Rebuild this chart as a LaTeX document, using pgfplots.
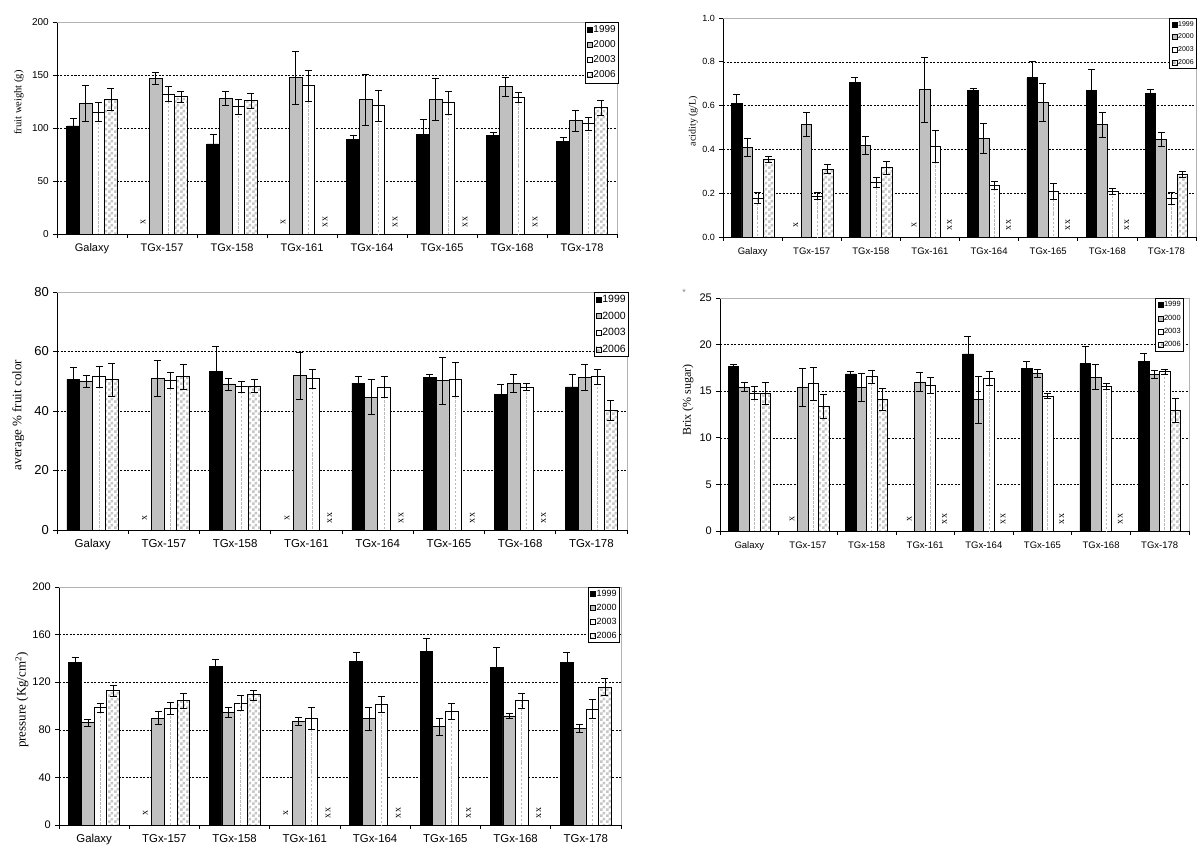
\documentclass[border=0pt]{standalone}
\usepackage{fontspec}
\setmainfont{Liberation Serif}
\newfontfamily\arial{Liberation Sans}
\usepackage{pgfplots}
\pgfplotsset{compat=1.18}
\usepackage{pgfplotstable}
\usetikzlibrary{patterns}

\definecolor{barg}{HTML}{C0C0C0}

% checkered fill of the 2006 bars
\pgfdeclarepatternformonly{chk}{\pgfqpoint{0pt}{0pt}}{\pgfqpoint{6pt}{6pt}}{\pgfqpoint{6pt}{6pt}}{%
  \pgfpathrectangle{\pgfqpoint{0pt}{0pt}}{\pgfqpoint{3pt}{3pt}}%
  \pgfpathrectangle{\pgfqpoint{3pt}{3pt}}{\pgfqpoint{3pt}{3pt}}%
  \pgfusepath{fill}}

% columns: category, mean and error for 1999, 2000, 2003, 2006
\pgfplotstableread{
x v99 e99 v00 e00 v03 e03 v06 e06
0 102 7 123 17 115 9 127 10
1 nan nan 147 6 132 7 129.5 5
2 85 9 128 7 120 7.5 126 7
3 nan nan 147.5 25 140 14.5 nan nan
4 89 4 127 24 121 15 nan nan
5 94 14 127 20 124 11 nan nan
6 93 3 139 9 129 4.5 nan nan
7 87 4 107 10 104 6 119 7
}\fw

\pgfplotstableread{
x v99 e99 v00 e00 v03 e03 v06 e06
0 0.610 0.040 0.410 0.041 0.177 0.025 0.354 0.015
1 nan nan 0.515 0.056 0.187 0.015 0.310 0.020
2 0.706 0.025 0.420 0.042 0.250 0.022 0.316 0.031
3 nan nan 0.672 0.148 0.415 0.072 nan nan
4 0.671 0.006 0.452 0.068 0.236 0.020 nan nan
5 0.727 0.074 0.614 0.088 0.210 0.037 nan nan
6 0.671 0.094 0.513 0.058 0.209 0.012 nan nan
7 0.654 0.020 0.446 0.030 0.176 0.026 0.285 0.013
}\acid

\pgfplotstableread{
x v99 e99 v00 e00 v03 e03 v06 e06
0 50.6 4.0 50.1 2.0 51.5 3.4 50.6 5.6
1 nan nan 50.9 6.0 50.3 2.6 51.5 4.3
2 53.2 8.6 49.1 2.0 48.2 1.8 48.4 2.1
3 nan nan 51.9 7.8 50.9 3.2 nan nan
4 49.4 2.3 44.7 5.9 48.0 3.5 nan nan
5 51.2 1.0 50.2 8.0 50.6 5.8 nan nan
6 45.6 3.3 49.2 3.0 48.0 1.2 nan nan
7 48.1 4.1 51.2 4.4 51.5 2.5 40.3 3.4
}\fcolor

\pgfplotstableread{
x v99 e99 v00 e00 v03 e03 v06 e06
0 17.70 0.20 15.45 0.50 14.80 0.70 14.80 1.20
1 nan nan 15.45 2.05 15.80 1.80 13.40 1.30
2 16.85 0.25 15.40 1.50 16.55 0.70 14.15 1.20
3 nan nan 16.00 1.05 15.60 0.85 nan nan
4 19.00 1.90 14.10 2.50 16.35 0.75 nan nan
5 17.40 0.80 16.90 0.40 14.50 0.25 nan nan
6 17.95 1.90 16.50 1.35 15.50 0.30 nan nan
7 18.15 0.90 16.80 0.45 17.10 0.25 12.95 1.25
}\brix

\pgfplotstableread{
x v99 e99 v00 e00 v03 e03 v06 e06
0 136.9 4.0 86.1 2.8 98.7 3.6 113.0 4.5
1 nan nan 89.8 5.6 98.2 4.8 104.6 6.2
2 133.2 6.4 94.5 4.2 102.4 6.2 109.4 4.2
3 nan nan 87.0 3.4 89.5 9.2 nan nan
4 137.7 7.3 89.5 9.8 101.5 6.5 nan nan
5 145.9 10.6 82.7 7.0 95.6 6.8 nan nan
6 132.7 16.5 91.7 2.0 104.6 6.2 nan nan
7 136.3 8.7 81.0 3.2 97.5 8.0 116.0 7.0
}\press

\tikzset{xm/.style={yshift=12pt, rotate=90, inner sep=0pt, font=\fontsize{10}{11}\selectfont}}

\pgfplotsset{
  panel/.style={
    scale only axis, anchor=south west, clip=false,
    xmin=-0.5, xmax=7.5,
    axis x line*=bottom, axis y line*=left,
    axis line style={-, black, line width=0.7pt},
    xtick={0,...,7},
    xticklabels={Galaxy,TGx-157,TGx-158,TGx-161,TGx-164,TGx-165,TGx-168,TGx-178},
    minor xtick={-0.5,0.5,...,7.5},
    tick align=outside,
    major tick length=0pt, minor tick length=4pt,
    tick style={black, line width=0.6pt},
    yminorgrids,
    minor grid style={black, line width=0.5pt, dash pattern=on 2pt off 1.5pt},
    xticklabel style={anchor=base, inner sep=0pt, yshift=-18pt},
    yticklabel style={anchor=east, inner sep=0pt, xshift=-8pt},
    ylabel style={anchor=center},
    legend cell align=left,
    legend style={draw=black, line width=0.6pt, at={(rel axis cs:1,1)}, anchor=north east,
      inner xsep=2pt, nodes={inner sep=1pt}},
    legend image code/.code={\draw[##1, line width=0.5pt] (0pt,-2.5pt) rectangle (5pt,2.5pt);},
  },
  bb/.style={ybar, bar width=0.18, draw=black, line width=0.7pt, forget plot},
  eb/.style={draw=none, mark=none, forget plot,
    error bars/.cd, y dir=both, y explicit,
    error bar style={draw=black, line width=0.6pt},
    error mark options={draw=black, rotate=90, mark size=3.5pt, line width=0.6pt}},
  mid/.style={draw=none, mark=none, forget plot,
    error bars/.cd, y dir=both, y explicit, error mark=none,
    error bar style={draw=gray!55, line width=1pt, dash pattern=on 2.5pt off 1.5pt}},
}

\newcommand\bars[1]{%
  \addplot[bb, bar shift=-0.27, fill=black] table[x=x, y=v99] {#1};
  \addplot[bb, bar shift=-0.09, fill=barg] table[x=x, y=v00] {#1};
  \addplot[bb, bar shift=0.09, fill=white] table[x=x, y=v03] {#1};
  \addplot[mid] table[x expr=\thisrow{x}+0.09, y expr=\thisrow{v03}/2, y error expr=\thisrow{v03}/2] {#1};
  \addplot[bb, bar shift=0.27, preaction={fill=white}, pattern=chk, pattern color=gray!45]
    table[x=x, y=v06] {#1};
  \addplot[eb] table[x expr=\thisrow{x}-0.27, y=v99, y error=e99] {#1};
  \addplot[eb] table[x expr=\thisrow{x}-0.09, y=v00, y error=e00] {#1};
  \addplot[eb] table[x expr=\thisrow{x}+0.09, y=v03, y error=e03] {#1};
  \addplot[eb] table[x expr=\thisrow{x}+0.27, y=v06, y error=e06] {#1};
  \draw[gray!60, line width=0.8pt] (rel axis cs:0,1) -- (rel axis cs:1,1) -- (rel axis cs:1,0);
  \addlegendimage{fill=black, draw=black}
  \addlegendimage{fill=barg, draw=black}
  \addlegendimage{fill=white, draw=black}
  \addlegendimage{pattern=chk, pattern color=gray!60, draw=black}
  \legend{1999,2000,2003,2006}
  \node[xm] at (axis cs:0.73,0) {x};
  \node[xm] at (axis cs:2.73,0) {x};
  \node[xm] at (axis cs:3.33,0) {x\,x};
  \node[xm] at (axis cs:4.33,0) {x\,x};
  \node[xm] at (axis cs:5.33,0) {x\,x};
  \node[xm] at (axis cs:6.33,0) {x\,x};
}

\begin{document}
\begin{tikzpicture}
\useasboundingbox (0pt,0pt) rectangle (1200pt,859pt);

% fruit weight
\begin{axis}[panel, at={(57pt,625pt)}, width=560pt, height=212pt,
  ymin=0, ymax=200, ytick={0,50,100,150,200}, yticklabels={0,50,100,150,200},
  minor ytick={0,50,100,150,200},
  yticklabel style={font=\arial\fontsize{10}{12}\selectfont},
  xticklabel style={font=\arial\fontsize{11}{13}\selectfont},
  ylabel={fruit weight (g)},
  ylabel style={at={(axis description cs:-0.068,0.62)}, font=\fontsize{10.5}{12}\selectfont},
  legend style={font=\arial\fontsize{10}{12}\selectfont, xshift=2pt, row sep=4.6pt, inner ysep=2.4pt},
]
\bars{\fw}
\end{axis}

% acidity
\begin{axis}[panel, at={(723pt,622pt)}, width=473pt, height=219pt,
  ymin=0, ymax=1, ytick={0,0.2,0.4,0.6,0.8,1}, yticklabels={0.0,0.2,0.4,0.6,0.8,1.0},
  minor ytick={0,0.2,0.4,0.6,0.8,1},
  yticklabel style={font=\arial\fontsize{9}{11}\selectfont},
  xticklabel style={font=\arial\fontsize{9.5}{11}\selectfont},
  ylabel={acidity (g/L)},
  ylabel style={at={(axis description cs:-0.063,0.53)}, font=\fontsize{10}{12}\selectfont},
  legend style={font=\arial\fontsize{7}{8}\selectfont, xshift=1pt, row sep=4.3pt, inner ysep=2pt},
]
\bars{\acid}
\end{axis}

% fruit colour
\begin{axis}[panel, at={(57pt,329pt)}, width=570pt, height=238pt,
  ymin=0, ymax=80, ytick={0,20,40,60,80}, yticklabels={0,20,40,60,80},
  minor ytick={0,20,40,60,80},
  yticklabel style={font=\arial\fontsize{13}{15}\selectfont},
  xticklabel style={font=\arial\fontsize{11.5}{13}\selectfont},
  ylabel={average \% fruit color},
  ylabel style={at={(axis description cs:-0.068,0.483)}, font=\fontsize{13}{15}\selectfont},
  legend style={font=\arial\fontsize{10.5}{12}\selectfont, xshift=2pt, row sep=5.8pt, inner ysep=1.8pt},
]
\bars{\fcolor}
\end{axis}

% Brix
\begin{axis}[panel, at={(720pt,328pt)}, width=469pt, height=233pt,
  ymin=0, ymax=25, ytick={0,5,10,15,20,25}, yticklabels={0,5,10,15,20,25},
  minor ytick={0,5,10,15,20,25},
  yticklabel style={font=\arial\fontsize{11}{13}\selectfont},
  xticklabel style={font=\arial\fontsize{9.5}{11}\selectfont},
  ylabel={Brix (\% sugar)},
  ylabel style={at={(axis description cs:-0.068,0.562)}, font=\fontsize{12}{14}\selectfont},
  legend style={font=\arial\fontsize{7.5}{9}\selectfont, xshift=-5pt, row sep=4.6pt, inner ysep=2.3pt},
]
\bars{\brix}
\end{axis}

% pressure
\begin{axis}[panel, at={(59pt,34pt)}, width=562pt, height=238pt,
  ymin=0, ymax=200, ytick={0,40,80,120,160,200}, yticklabels={0,40,80,120,160,200},
  minor ytick={0,40,80,120,160,200},
  yticklabel style={font=\arial\fontsize{11}{13}\selectfont},
  xticklabel style={font=\arial\fontsize{11.4}{13}\selectfont},
  ylabel={pressure (Kg/cm\textsuperscript{2})},
  ylabel style={at={(axis description cs:-0.066,0.525)}, font=\fontsize{13}{15}\selectfont},
  legend style={font=\arial\fontsize{9}{11}\selectfont, xshift=-1pt, row sep=4.3pt, inner ysep=1.7pt},
]
\bars{\press}
\end{axis}

\node[gray, font=\arial\fontsize{9}{10}\selectfont] at (684pt,567pt) {*};
\end{tikzpicture}
\end{document}
